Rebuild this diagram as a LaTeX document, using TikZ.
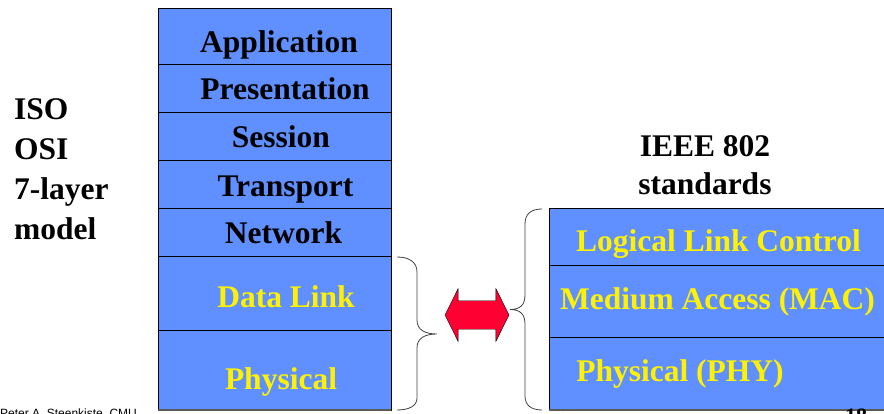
\documentclass[tikz,border=0pt]{standalone}
\usepackage{fontspec}
\setmainfont{Liberation Serif}
\newfontfamily\footfont{Liberation Sans}
\usetikzlibrary{positioning}
\usetikzlibrary{shapes.arrows}
\definecolor{layerblue}{RGB}{96,143,255}
\definecolor{arrowred}{RGB}{255,0,51}

\begin{document}
\begin{tikzpicture}[x=1pt, y=-1pt,
    layer/.style={draw, line width=1pt, fill=layerblue, minimum width=233pt, inner sep=0pt, outer sep=0pt},
    ieeelayer/.style={layer, minimum width=340pt},
    layertext/.style={anchor=base, inner sep=0pt, font=\fontsize{31.5}{40}\selectfont\bfseries},
    lowtext/.style={layertext, text=yellow},
    brace/.style={line width=0.8pt, black!75}]
    \useasboundingbox (0,0) rectangle (884,414);

    \node [layer, minimum height=56pt, anchor=north west] (app) at (158,9) {};
    \node [layer, minimum height=48pt, below=0pt of app] (pres) {};
    \node [layer, minimum height=48pt, below=0pt of pres] (sess) {};
    \node [layer, minimum height=48pt, below=0pt of sess] (trans) {};
    \node [layer, minimum height=48pt, below=0pt of trans] (net) {};
    \node [layer, minimum height=73pt, below=0pt of net] (dl) {};
    \node [layer, minimum height=80pt, below=0pt of dl] (phy) {};
    \draw [line width=2pt, black!65] (phy.south west) -- (phy.south east);

    \node [ieeelayer, minimum height=57pt, anchor=north west] (llc) at (549,209) {};
    \node [ieeelayer, minimum height=71pt, below=0pt of llc] (mac) {};
    \node [ieeelayer, minimum height=73pt, below=0pt of mac] (pphy) {};
    \draw [line width=2pt, black!65] (pphy.south west) -- (pphy.south east);

    \node [layertext] (tapp) at (279,53) {Application};
    \node [layertext] (tpres) at (285,100) {Presentation};
    \node [layertext] (tsess) at (281,148) {Session};
    \node [layertext] (ttrans) at (285.5,197) {Transport};
    \node [layertext] (tnet) at (283.5,244) {Network};
    \node [lowtext] (tdl) at (286,308) {Data Link};
    \node [lowtext] (tphy) at (281,389) {Physical};

    \node [lowtext] (tllc) at (718.5,252) {Logical Link Control};
    \node [lowtext] (tmac) at (717.5,309) {Medium Access (MAC)};
    \node [lowtext] (tpphy) at (680,381) {Physical (PHY)};

    \node [layertext, align=left, anchor=base west] (iso) at (14,240) {ISO\\OSI\\7-layer\\model};
    \node [layertext, align=center] (ieee) at (705,195) {IEEE 802\\[-2pt]standards};

    \draw [brace] (397,257) .. controls (409,257) and (417,262) .. (417,272) -- (417,320)
        .. controls (417,330) and (425,334) .. (437,334)
        .. controls (425,334) and (417,338) .. (417,348) -- (417,398)
        .. controls (417,406) and (409,410) .. (397,410);
    \draw [brace] (542,209) .. controls (531,209) and (525,214) .. (525,224) -- (525,295)
        .. controls (525,305) and (520,309.5) .. (510,309.5)
        .. controls (520,309.5) and (525,314) .. (525,324) -- (525,396)
        .. controls (525,405) and (531,410) .. (542,410);

    \node [double arrow, draw, fill=arrowred, minimum height=64pt, minimum width=52pt, double arrow head extend=12pt, double arrow tip angle=127, inner xsep=0pt, inner ysep=14pt] (swap) at (477,315) {};

    \node [anchor=base west, inner sep=0pt, font=\footfont\fontsize{12}{14}\selectfont] (author) at (0,417) {Peter A. Steenkiste, CMU};
    \node [anchor=base west, inner sep=0pt, font=\fontsize{22}{26}\selectfont\bfseries] (page) at (845,423) {18};

\end{tikzpicture}
\end{document}
